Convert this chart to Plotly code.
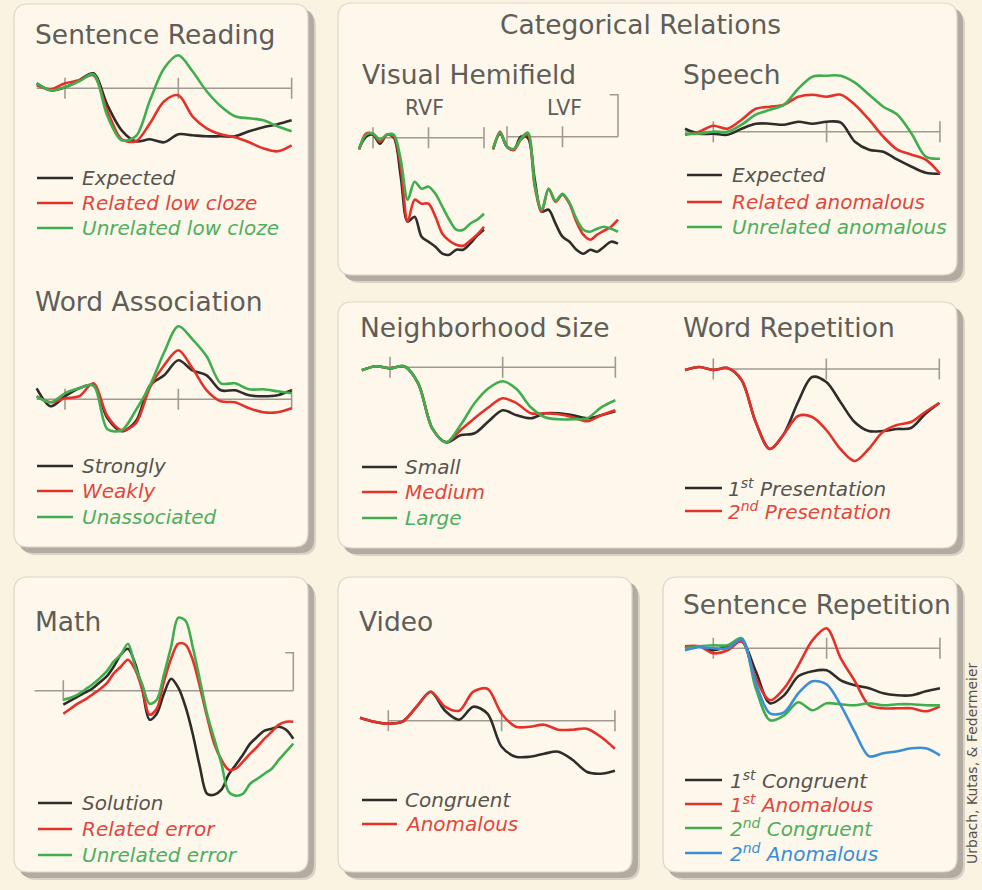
import plotly.graph_objects as go

W, H = 982, 890
BG = "#FAF3E2"
PANEL_FILL = "#FDF8EB"
PANEL_EDGE = "#DDD6C7"
SHADOW_DARK = "#B2ABA1"
SHADOW_SOFT = "#D9D2C5"
AXIS = "#A09A90"
TITLE = "#605D58"
FONT = "DejaVu Sans"

BLACK, RED, GREEN, BLUE = "#2F2C29", "#E4322B", "#40AE4E", "#3A8ED6"
BLACK_TXT, RED_TXT, GREEN_TXT, BLUE_TXT = "#57544F", "#E2473D", "#4FAE60", "#3A8ED6"

# ---------------- data: time (ms) and amplitude (positive = up) ----------------
T_LONG = [-100, -50, 0, 50, 100, 150, 200, 250, 300, 350, 400, 450, 500, 550, 600, 650, 700, 750, 800]
T_HEMI = [-50, -25, 0, 25, 50, 75, 100, 125, 150, 175, 200, 225, 250, 275, 300, 325, 350, 375, 400]
T_MATH = [0, 25, 50, 75, 100, 125, 150, 175, 200, 225, 250, 275, 300, 325, 350, 375, 400,
          425, 450, 475, 500, 525, 550, 575, 600, 625, 650, 675, 700, 725, 750, 775, 800]

SR_EXPECTED = [5, -2, 1, 8, 15, -17, -42, -53, -51, -54, -46, -47, -48, -48, -48, -43, -39, -36, -32]
SR_RELATED = [3, -1, 5, 8, 13, -23, -51, -53, -35, -13, -7, -28, -40, -46, -49, -54, -60, -63, -57]
SR_UNRELATED = [5, -2, 1, 7, 14, -28, -52, -48, -12, 20, 33, 17, -3, -18, -28, -30, -32, -38, -43]

WA_STRONGLY = [11, -7, 3, 11, 14, -19, -32, -22, 14, 24, 39, 29, 24, 9, 9, 4, 3, 4, 9]
WA_WEAKLY = [3, -3, 1, 3, 16, -17, -31, -24, 12, 34, 49, 31, 9, -2, -3, -9, -13, -13, -9]
WA_UNASSOC = [3, -3, 6, 11, 14, -30, -31, -11, 14, 47, 73, 60, 43, 16, 16, 10, 10, 8, 6]

RVF_BLACK = [-11, 1, 3, -6, 3, 0, -39, -84, -79, -99, -104, -109, -116, -117, -112, -112, -106, -98, -92]
RVF_RED = [-12, 4, 4, -4, 3, 1, -29, -84, -62, -66, -66, -79, -96, -103, -107, -108, -103, -97, -89]
RVF_GREEN = [-11, 3, 4, -2, 3, 3, -22, -62, -44, -51, -49, -56, -69, -82, -92, -92, -86, -82, -76]

LVF_BLACK = [-12, 3, -10, -13, 0, -1, -43, -75, -73, -87, -100, -105, -113, -117, -113, -115, -110, -105, -107]
LVF_RED = [-13, 5, -10, -13, -3, 2, -50, -75, -52, -65, -58, -67, -85, -98, -103, -98, -94, -90, -83]
LVF_GREEN = [-12, 4, -10, -12, -2, 4, -48, -73, -52, -64, -57, -66, -82, -93, -95, -92, -90, -92, -95]

SP_EXPECTED = [3, -2, -2, -3, 3, 8, 8, 7, 10, 8, 10, 9, -10, -18, -20, -28, -35, -41, -42]
SP_RELATED = [-3, 0, 6, 3, 12, 23, 25, 27, 35, 37, 35, 37, 27, 12, -5, -18, -23, -28, -42]
SP_UNRELATED = [-2, -2, 0, 0, 7, 17, 22, 27, 43, 55, 56, 56, 49, 37, 25, 17, -2, -25, -27]

NS_SMALL = [-3, 1, -1, 1, -16, -61, -75, -68, -66, -54, -43, -48, -51, -46, -46, -48, -51, -48, -44]
NS_MEDIUM = [-3, 1, -1, 1, -16, -61, -75, -63, -51, -40, -31, -36, -46, -46, -47, -50, -54, -48, -43]
NS_LARGE = [-3, 1, -1, 1, -16, -61, -75, -58, -36, -21, -14, -22, -40, -50, -52, -52, -51, -40, -33]

WR_FIRST = [-1, 2, -1, 1, -11, -53, -80, -65, -33, -8, -13, -33, -53, -62, -62, -60, -59, -45, -34]
WR_SECOND = [-1, 2, -1, 1, -11, -53, -80, -65, -47, -48, -61, -80, -92, -80, -63, -56, -53, -43, -34]

MATH_SOLUTION = [-14, -10, -6, -2, 2, 8, 14, 24, 36, 42, 27, 1, -29, -23, -3, 12, 3, -16, -43,
                 -76, -103, -104, -99, -84, -74, -64, -53, -46, -40, -38, -36, -39, -48]
MATH_RELATED = [-23, -18, -13, -9, -4, 1, 7, 17, 24, 31, 21, 1, -24, -18, 9, 32, 47, 46, 31,
                4, -26, -53, -69, -79, -78, -71, -63, -56, -48, -41, -34, -31, -31]
MATH_UNRELATED = [-9, -7, -4, 1, 6, 12, 19, 29, 36, 47, 24, 6, -13, -9, 16, 44, 73, 70, 44,
                  11, -23, -48, -73, -101, -105, -103, -93, -88, -83, -78, -69, -61, -53]

VID_CONGRUENT = [3, -1, -3, -1, 14, 29, 10, 1, 14, 7, -26, -36, -36, -33, -31, -39, -51, -53, -50]
VID_ANOMALOUS = [3, -1, -3, -1, 14, 29, 14, 10, 29, 32, 7, -6, -6, -4, -9, -9, -8, -16, -28]

SREP_1C = [0, 2, -2, 2, 7, -23, -55, -47, -28, -23, -22, -32, -37, -40, -45, -47, -47, -43, -40]
SREP_1A = [2, 2, -5, -2, 7, -30, -52, -40, -17, 8, 20, -10, -33, -57, -60, -60, -60, -63, -58]
SREP_2C = [0, 2, 3, 3, 10, -40, -72, -67, -54, -62, -55, -56, -57, -55, -57, -56, -56, -57, -57]
SREP_2A = [-2, 1, 0, 0, 9, -35, -65, -64, -45, -33, -36, -57, -84, -108, -105, -103, -100, -100, -107]

# baselines, tick marks and calibration bars (ms / amplitude)
BASE_FULL = [-100, 800]
BASE_POST = [0, 800]
BASE_HEMI = [0, 400]
TICKS_FULL = [0, 400, 800]
TICKS_HEMI_R = [0, 200, 400]
TICKS_HEMI_L = [0, 200]
TICKS_MATH = [0]
LVF_BAR_T, LVF_BAR_V = [370, 400, 400], [42, 42, 0]
MATH_BAR_T, MATH_BAR_V = [772, 800, 800], [38, 38, 0]

# legend texts
SR_LABELS = ["Expected", "Related low cloze", "Unrelated low cloze"]
WA_LABELS = ["Strongly", "Weakly", "Unassociated"]
SP_LABELS = ["Expected", "Related anomalous", "Unrelated anomalous"]
NS_LABELS = ["Small", "Medium", "Large"]
WR_LABELS = ["1<sup>st</sup> Presentation", "2<sup>nd</sup> Presentation"]
MATH_LABELS = ["Solution", "Related error", "Unrelated error"]
VID_LABELS = ["Congruent", "Anomalous"]
SREP_LABELS = ["1<sup>st</sup> Congruent", "1<sup>st</sup> Anomalous",
               "2<sup>nd</sup> Congruent", "2<sup>nd</sup> Anomalous"]


def px(x):
    return x / W


def py(y):
    return 1 - y / H


YUP, YDN = 85, 130

plots = [
    dict(t0=65, s=0.2833, base=88.3, span=(-100, 800), t=T_LONG, line=BASE_FULL, ticks=TICKS_FULL,
         series=[(SR_EXPECTED, BLACK), (SR_RELATED, RED), (SR_UNRELATED, GREEN)]),
    dict(t0=65, s=0.2833, base=399.3, span=(-100, 800), t=T_LONG, line=BASE_FULL, ticks=TICKS_FULL,
         series=[(WA_STRONGLY, BLACK), (WA_WEAKLY, RED), (WA_UNASSOC, GREEN)]),
    dict(t0=373, s=0.2775, base=137.7, span=(-50, 400), t=T_HEMI, line=BASE_HEMI, ticks=TICKS_HEMI_R,
         series=[(RVF_BLACK, BLACK), (RVF_RED, RED), (RVF_GREEN, GREEN)]),
    dict(t0=507, s=0.2775, base=136.7, span=(-50, 400), t=T_HEMI, line=BASE_HEMI, ticks=TICKS_HEMI_L,
         bar=(LVF_BAR_T, LVF_BAR_V),
         series=[(LVF_BLACK, BLACK), (LVF_RED, RED), (LVF_GREEN, GREEN)]),
    dict(t0=713.3, s=0.2833, base=131.7, span=(-100, 800), t=T_LONG, line=BASE_FULL, ticks=TICKS_FULL,
         series=[(SP_EXPECTED, BLACK), (SP_RELATED, RED), (SP_UNRELATED, GREEN)]),
    dict(t0=390, s=0.2817, base=367.3, span=(-100, 800), t=T_LONG, line=BASE_POST, ticks=TICKS_FULL,
         series=[(NS_SMALL, BLACK), (NS_MEDIUM, RED), (NS_LARGE, GREEN)]),
    dict(t0=713.3, s=0.2825, base=369, span=(-100, 800), t=T_LONG, line=BASE_POST, ticks=TICKS_FULL,
         series=[(WR_FIRST, BLACK), (WR_SECOND, RED)]),
    dict(t0=63.3, s=0.2875, base=690.7, span=(-100, 800), t=T_MATH, line=BASE_FULL, ticks=TICKS_MATH,
         bar=(MATH_BAR_T, MATH_BAR_V),
         series=[(MATH_SOLUTION, BLACK), (MATH_RELATED, RED), (MATH_UNRELATED, GREEN)]),
    dict(t0=388.3, s=0.2833, base=720.7, span=(-100, 800), t=T_LONG, line=BASE_POST, ticks=TICKS_FULL,
         series=[(VID_CONGRUENT, BLACK), (VID_ANOMALOUS, RED)]),
    dict(t0=713.3, s=0.2833, base=648.3, span=(-100, 800), t=T_LONG, line=BASE_POST, ticks=TICKS_FULL,
         series=[(SREP_1C, BLACK), (SREP_1A, RED), (SREP_2C, GREEN), (SREP_2A, BLUE)]),
]

fig = go.Figure()
axes = {}
for i, p in enumerate(plots, start=1):
    xr = "x" if i == 1 else f"x{i}"
    yr = "y" if i == 1 else f"y{i}"
    lo, hi = p["span"][0] - 12, p["span"][1] + 12
    axes["xaxis" if i == 1 else f"xaxis{i}"] = dict(
        domain=[px(p["t0"] + lo * p["s"]), px(p["t0"] + hi * p["s"])],
        range=[lo, hi], visible=False, anchor=yr, fixedrange=True)
    axes["yaxis" if i == 1 else f"yaxis{i}"] = dict(
        domain=[py(p["base"] + YDN), py(p["base"] - YUP)],
        range=[-YDN, YUP], visible=False, anchor=xr, fixedrange=True)

    fig.add_trace(go.Scatter(x=p["line"], y=[0] * len(p["line"]), mode="lines",
                             line=dict(color=AXIS, width=1.6), xaxis=xr, yaxis=yr, hoverinfo="skip"))
    fig.add_trace(go.Scatter(x=p["ticks"], y=[0] * len(p["ticks"]), mode="markers",
                             marker=dict(symbol="line-ns", size=15, line=dict(color=AXIS, width=1.6)),
                             xaxis=xr, yaxis=yr, hoverinfo="skip"))
    if "bar" in p:
        fig.add_trace(go.Scatter(x=p["bar"][0], y=p["bar"][1], mode="lines",
                                 line=dict(color=AXIS, width=1.6), xaxis=xr, yaxis=yr, hoverinfo="skip"))
    for vals, col in p["series"]:
        fig.add_trace(go.Scatter(x=p["t"], y=vals, mode="lines",
                                 line=dict(color=col, width=2.6, shape="spline", smoothing=0.9),
                                 xaxis=xr, yaxis=yr))


# ---------------- panels ----------------
def rounded(x0, y0, x1, y1, r=14):
    X0, X1, Y0, Y1 = px(x0), px(x1), py(y0), py(y1)
    rx, ry = r / W, r / H
    return (f"M {X0 + rx},{Y0} L {X1 - rx},{Y0} Q {X1},{Y0} {X1},{Y0 - ry} "
            f"L {X1},{Y1 + ry} Q {X1},{Y1} {X1 - rx},{Y1} L {X0 + rx},{Y1} "
            f"Q {X0},{Y1} {X0},{Y1 + ry} L {X0},{Y0 - ry} Q {X0},{Y0} {X0 + rx},{Y0} Z")


panels = [(14, 4, 308, 547), (338, 3, 957, 275), (338, 302, 957, 548),
          (14, 577, 308, 872), (338, 577, 632, 872), (663, 577, 957, 872)]
shapes = []
for x0, y0, x1, y1 in panels:
    shapes.append(dict(type="path", path=rounded(x0 + 8, y0 + 8, x1 + 8, y1 + 8), xref="paper", yref="paper",
                       fillcolor=SHADOW_SOFT, line=dict(width=0), layer="below"))
    shapes.append(dict(type="path", path=rounded(x0 + 5, y0 + 5, x1 + 6, y1 + 6), xref="paper", yref="paper",
                       fillcolor=SHADOW_DARK, line=dict(width=0), layer="below"))
    shapes.append(dict(type="path", path=rounded(x0, y0, x1, y1), xref="paper", yref="paper",
                       fillcolor=PANEL_FILL, line=dict(color=PANEL_EDGE, width=1.2), layer="below"))

annotations = []


def title(text, x, y, size=26.5):
    annotations.append(dict(text=text, x=px(x), y=py(y), xref="paper", yref="paper",
                            xanchor="left", yanchor="middle", showarrow=False,
                            font=dict(family=FONT, size=size, color=TITLE)))


title("Sentence Reading", 33, 34)
title("Word Association", 33, 301)
title("Categorical Relations", 498, 25)
title("Visual Hemifield", 360, 74)
title("Speech", 681, 74)
title("RVF", 403, 108, 20.5)
title("LVF", 545, 108, 20.5)
title("Neighborhood Size", 358, 328)
title("Word Repetition", 681, 328)
title("Math", 33, 621)
title("Video", 357, 621)
title("Sentence Repetition", 681, 604)

legends = [
    (SR_LABELS, [BLACK, RED, GREEN], [BLACK_TXT, RED_TXT, GREEN_TXT], 37, 73, 80, [178, 203, 228]),
    (WA_LABELS, [BLACK, RED, GREEN], [BLACK_TXT, RED_TXT, GREEN_TXT], 37, 73, 80, [466, 491, 517]),
    (SP_LABELS, [BLACK, RED, GREEN], [BLACK_TXT, RED_TXT, GREEN_TXT], 687, 722, 730, [175, 202, 227]),
    (NS_LABELS, [BLACK, RED, GREEN], [BLACK_TXT, RED_TXT, GREEN_TXT], 362, 397, 403, [467, 492, 518]),
    (WR_LABELS, [BLACK, RED], [BLACK_TXT, RED_TXT], 685, 722, 726, [488, 511]),
    (MATH_LABELS, [BLACK, RED, GREEN], [BLACK_TXT, RED_TXT, GREEN_TXT], 38, 72, 80, [803, 829, 855]),
    (VID_LABELS, [BLACK, RED], [BLACK_TXT, RED_TXT], 362, 397, 403, [800, 824]),
    (SREP_LABELS, [BLACK, RED, GREEN, BLUE], [BLACK_TXT, RED_TXT, GREEN_TXT, BLUE_TXT],
     685, 722, 728, [780, 804, 828, 853]),
]
for labels, lcols, tcols, lx0, lx1, tx, ys in legends:
    for lab, lc, tc, yy in zip(labels, lcols, tcols, ys):
        shapes.append(dict(type="line", xref="paper", yref="paper", x0=px(lx0), x1=px(lx1),
                           y0=py(yy), y1=py(yy), line=dict(color=lc, width=2.5)))
        annotations.append(dict(text=f"<i>{lab}</i>", x=px(tx), y=py(yy), xref="paper", yref="paper",
                                xanchor="left", yanchor="middle", showarrow=False,
                                font=dict(family=FONT, size=20, color=tc)))

annotations.append(dict(text="Urbach, Kutas, & Federmeier", x=px(972), y=py(763), xref="paper", yref="paper",
                        textangle=-90, showarrow=False, xanchor="center", yanchor="middle",
                        font=dict(family=FONT, size=14, color="#55524D")))

fig.update_layout(width=W, height=H, margin=dict(l=0, r=0, t=0, b=0, pad=0),
                  paper_bgcolor=BG, plot_bgcolor="rgba(0,0,0,0)", showlegend=False,
                  shapes=shapes, annotations=annotations, **axes)

# the page body has a default 8px margin; drop it so the figure fills the window
fig.write_html("out.html", config={"displayModeBar": False},
               post_script="document.body.style.margin='0px';")
